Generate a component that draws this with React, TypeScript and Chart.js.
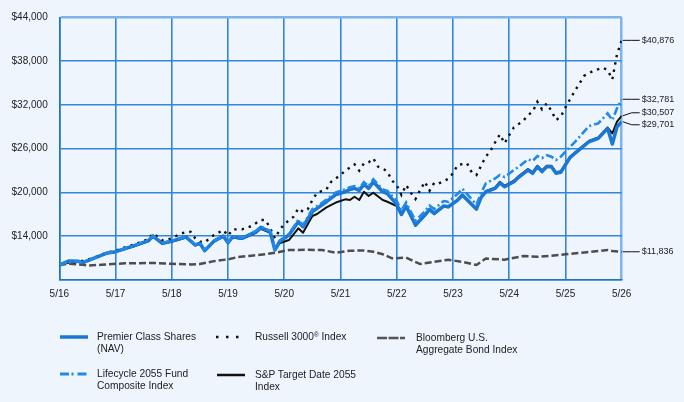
import React, { useEffect, useRef } from 'react';
import { Chart, registerables } from 'chart.js';

Chart.register(...registerables);

// ---- data ----
const xTickLabels = ['5/16', '5/17', '5/18', '5/19', '5/20', '5/21', '5/22', '5/23', '5/24', '5/25', '5/26'];

// months since 5/16 for the fund-type series
const fundMonths = [0, 2, 4, 5, 10, 12, 16, 19, 20, 22, 24, 26, 27, 29, 30, 31, 33, 35, 36, 37, 39, 42, 43, 45, 46, 47, 49, 51, 52, 54, 55, 57, 59, 61, 62, 63, 64, 65, 66, 67, 69, 70, 72, 73, 74, 76, 78, 79, 80, 82, 83, 85, 86, 89, 90, 91, 93, 94, 95, 97, 98, 100, 101, 102, 103, 104, 105, 106, 107, 109, 110, 113, 115, 117, 118, 119, 120];

const premierValues = [10000, 10570, 10530, 10340, 11620, 11850, 12670, 13360, 14000, 13000, 13300, 13680, 13900, 12770, 13000, 11990, 13300, 14000, 13080, 13900, 13680, 14600, 15190, 14590, 12080, 13220, 14140, 15960, 15280, 17340, 17800, 18710, 19700, 20080, 20400, 20540, 20260, 21090, 20540, 21450, 20080, 19810, 18340, 16970, 18110, 15510, 16880, 17660, 17110, 18120, 18020, 18940, 19630, 17700, 19300, 20080, 20540, 21310, 20770, 21450, 22060, 23060, 22610, 23530, 22840, 23530, 23530, 22610, 22750, 24810, 25350, 26950, 27410, 28780, 26630, 29010, 29701];

const lifecycleValues = [10000, 10580, 10540, 10350, 11640, 11870, 12700, 13400, 14050, 13050, 13350, 13730, 13950, 12820, 13050, 12050, 13350, 14050, 13150, 13950, 13750, 14700, 15300, 14700, 12200, 13350, 14300, 16200, 15500, 17700, 18100, 19000, 20000, 20400, 20700, 20850, 20550, 21400, 20850, 21800, 20400, 20200, 18800, 17500, 18600, 16100, 17400, 18200, 17700, 18800, 18700, 19800, 20500, 18300, 19900, 21220, 21900, 22380, 22100, 23060, 23500, 24530, 24300, 24990, 24700, 25100, 24900, 24440, 24900, 26260, 26900, 29100, 29470, 30840, 29930, 31530, 32781];

const spTargetValues = [10000, 10540, 10500, 10320, 11580, 11800, 12600, 13280, 13900, 12920, 13200, 13580, 13800, 12700, 12950, 11950, 13250, 13900, 13000, 13800, 13600, 14450, 15000, 14450, 12100, 13000, 13450, 15060, 14450, 16750, 17020, 17940, 18600, 19040, 18940, 19400, 18940, 20080, 19490, 19950, 18940, 18710, 18100, 16900, 18000, 15400, 16800, 17550, 17000, 18050, 17950, 18900, 19550, 17650, 19300, 20150, 20650, 21450, 20900, 21600, 22200, 23200, 22750, 23650, 23000, 23650, 23650, 22750, 22900, 24900, 25450, 27050, 27550, 28900, 28090, 29700, 30507];

const russellMonths = [0, 2, 4, 6, 8, 10, 12, 16, 19, 20, 22, 24, 26, 28, 29, 30, 31, 33, 35, 36, 37, 39, 41, 43, 44, 45, 46, 47, 48, 50, 51, 52, 53, 54, 55, 57, 58, 60, 61, 63, 64, 65, 66, 67, 68, 69, 70, 71, 72, 73, 74, 75, 76, 77, 78, 79, 80, 81, 83, 84, 85, 87, 88, 89, 90, 91, 92, 93, 94, 95, 96, 97, 99, 100, 101, 102, 103, 104, 105, 106, 107, 108, 109, 110, 111, 112, 114, 116, 117, 118, 119, 120];

const russellValues = [10000, 10350, 10450, 10750, 11160, 11700, 12000, 12850, 13550, 14350, 13400, 13680, 14370, 14590, 13680, 13220, 13130, 14140, 14820, 14040, 14910, 14910, 15370, 16200, 16200, 15060, 13680, 14820, 15650, 16650, 17800, 17340, 17660, 18940, 19940, 20410, 21450, 22380, 22970, 23840, 22970, 23990, 24120, 24670, 23530, 23300, 22840, 21600, 21000, 19630, 21000, 19950, 19080, 20310, 21450, 20220, 21310, 21220, 21860, 22620, 23760, 23990, 22740, 22380, 23650, 24900, 25680, 26870, 27960, 26730, 27870, 28920, 29830, 30610, 31070, 32440, 31400, 32220, 31200, 29930, 30380, 31670, 32810, 33910, 34970, 36010, 36700, 37110, 36790, 35510, 38950, 40876];

const bondMonths = [0, 2, 5, 6, 9, 14, 20, 24, 28, 30, 33, 36, 38, 41, 44, 46, 49, 53, 56, 59, 62, 65, 67, 69, 71, 74, 77, 80, 83, 86, 89, 91, 95, 99, 102, 105, 108, 112, 117, 118, 120];

const bondValues = [10000, 10200, 10050, 9950, 10050, 10250, 10300, 10180, 10100, 10150, 10550, 10800, 11100, 11300, 11500, 11700, 12080, 12100, 12080, 11710, 11990, 12000, 11850, 11500, 10940, 11020, 10150, 10470, 10750, 10450, 10020, 10900, 10750, 11250, 11150, 11300, 11500, 11750, 12080, 11940, 11836];

const seriesNames = [
  'Lifecycle 2055 Fund Composite Index',
  'Premier Class Shares (NAV)',
  'S&P Target Date 2055 Index',
  'Russell 3000® Index',
  'Bloomberg U.S. Aggregate Bond Index',
];

const FONT = '"Liberation Sans", Arial, Helvetica, sans-serif';
const BG = '#EEF5FD';
const GRID = '#3585da';
const EDGE = '#7db4ee';
const TEXT = '#222222';
const PREMIER = '#1a78d4';
const LIFECYCLE = '#2389e6';

const toPoints = (xs: number[], ys: number[]) => xs.map((x, i) => ({ x, y: ys[i] }));

const endLabels = {
  id: 'endLabels',
  afterDatasetsDraw(chart: any) {
    const { ctx, chartArea } = chart;
    const items = chart.data.datasets.map((ds: any, i: number) => {
      const meta = chart.getDatasetMeta(i);
      const last = meta.data[meta.data.length - 1];
      const v = ds.data[ds.data.length - 1].y;
      return { y: last.y, ly: last.y, text: '$' + v.toLocaleString('en-US') };
    });
    items.sort((a: any, b: any) => a.y - b.y);
    const gap = 12;
    for (let it = 0; it < 30; it++) {
      for (let i = 1; i < items.length; i++) {
        const d = items[i].ly - items[i - 1].ly;
        if (d < gap) {
          const s = (gap - d) / 2;
          items[i - 1].ly -= s;
          items[i].ly += s;
        }
      }
    }
    ctx.save();
    ctx.strokeStyle = '#111';
    ctx.lineWidth = 1;
    ctx.fillStyle = TEXT;
    ctx.font = `9px ${FONT}`;
    ctx.textBaseline = 'middle';
    ctx.textAlign = 'left';
    const r = chartArea.right;
    items.forEach((it: any) => {
      ctx.beginPath();
      ctx.moveTo(r + 1, it.y);
      ctx.lineTo(r + 10, it.ly);
      ctx.lineTo(r + 18, it.ly);
      ctx.stroke();
      ctx.fillText(it.text, r + 20, it.ly);
    });
    ctx.restore();
  },
};

function Sample({ kind }: { kind: string }) {
  const common = { x1: 1, y1: 5, x2: 29, y2: 5, strokeLinecap: 'butt' as const };
  let el;
  if (kind === 'premier') el = <line {...common} stroke={PREMIER} strokeWidth={3.5} />;
  else if (kind === 'lifecycle') el = <line {...common} stroke={LIFECYCLE} strokeWidth={3} strokeDasharray="9 2.5 2 4" />;
  else if (kind === 'sp') el = <line {...common} stroke="#111" strokeWidth={2.5} />;
  else if (kind === 'russell') el = <line x1={1} y1={5} x2={24} y2={5} stroke="#111" strokeWidth={2.5} strokeDasharray="2.5 7.5" />;
  else el = <line {...common} stroke="#555" strokeWidth={2.5} strokeDasharray="10 1.5" />;
  return (
    <svg width={30} height={10} style={{ position: 'absolute', left: 0, top: 0 }}>
      {el}
    </svg>
  );
}

function LegendItem({ left, top, kind, children, textLeft }: any) {
  return (
    <>
      <div style={{ position: 'absolute', left, top: top - 5, width: 30, height: 10 }}>
        <Sample kind={kind} />
      </div>
      <div
        style={{
          position: 'absolute',
          left: textLeft,
          top: top - 6,
          fontSize: 10.2,
          lineHeight: '11.5px',
          color: TEXT,
          fontFamily: FONT,
          whiteSpace: 'nowrap',
        }}
      >
        {children}
      </div>
    </>
  );
}

export default function App() {
  const ref = useRef<HTMLCanvasElement>(null);

  useEffect(() => {
    document.body.style.margin = '0';
    document.body.style.background = BG;
    const canvas = ref.current;
    if (!canvas) return;
    const chart = new Chart(canvas, {
      type: 'line',
      data: {
        datasets: [
          {
            label: seriesNames[0],
            data: toPoints(fundMonths, lifecycleValues),
            borderColor: LIFECYCLE,
            borderWidth: 2.6,
            borderDash: [8, 3, 2, 3],
            pointRadius: 0,
            tension: 0,
          },
          {
            label: seriesNames[1],
            data: toPoints(fundMonths, premierValues),
            borderColor: PREMIER,
            borderWidth: 3.5,
            borderJoinStyle: 'round',
            pointRadius: 0,
            tension: 0,
          },
          {
            label: seriesNames[2],
            data: toPoints(fundMonths, spTargetValues),
            borderColor: '#111',
            borderWidth: 2,
            borderJoinStyle: 'round',
            pointRadius: 0,
            tension: 0,
          },
          {
            label: seriesNames[3],
            data: toPoints(russellMonths, russellValues),
            borderColor: '#111',
            borderWidth: 2.4,
            borderDash: [2.4, 5],
            pointRadius: 0,
            tension: 0,
          },
          {
            label: seriesNames[4],
            data: toPoints(bondMonths, bondValues),
            borderColor: '#4d4d4d',
            borderWidth: 2.5,
            borderDash: [7, 3],
            pointRadius: 0,
            tension: 0,
          },
        ] as any,
      },
      options: {
        animation: false,
        responsive: false,
        maintainAspectRatio: false,
        layout: { padding: { left: 0, top: 17.5, right: 62.3, bottom: 0 } },
        plugins: { legend: { display: false }, tooltip: { enabled: false } },
        scales: {
          x: {
            type: 'linear',
            min: 0,
            max: 120,
            afterFit: (s: any) => {
              s.height = 402 - 279.7;
            },
            ticks: {
              stepSize: 12,
              autoSkip: false,
              maxRotation: 0,
              padding: 9,
              color: TEXT,
              font: { family: FONT, size: 10 },
              callback: (v: any) => xTickLabels[Math.round(Number(v) / 12)] ?? '',
            },
            grid: {
              drawTicks: false,
              color: (c: any) => (c.tick && c.tick.value === 120 ? EDGE : GRID),
              lineWidth: (c: any) => (c.tick && c.tick.value === 120 ? 2.5 : 1.6),
            },
            border: { color: '#1f74cc', width: 1.6 },
          },
          y: {
            type: 'linear',
            min: 8000,
            max: 44000,
            afterFit: (s: any) => {
              s.width = 59.3;
            },
            ticks: {
              stepSize: 6000,
              padding: 11.6,
              color: TEXT,
              font: { family: FONT, size: 10 },
              callback: (v: any) => (Number(v) === 8000 ? '' : '$' + Number(v).toLocaleString('en-US')),
            },
            grid: {
              drawTicks: false,
              color: (c: any) => (c.tick && c.tick.value === 44000 ? EDGE : GRID),
              lineWidth: (c: any) => (c.tick && c.tick.value === 44000 ? 2.5 : 1.6),
            },
            border: { color: '#1f74cc', width: 1.6 },
          },
        },
      },
      plugins: [endLabels],
    });
    return () => chart.destroy();
  }, []);

  return (
    <div style={{ position: 'relative', width: 684, height: 402, background: BG, fontFamily: FONT }}>
      <canvas ref={ref} width={684} height={402} style={{ position: 'absolute', left: 0, top: 0, width: 684, height: 402 }} />
      <LegendItem left={59} top={337} textLeft={97} kind="premier">
        Premier Class Shares
        <br />
        (NAV)
      </LegendItem>
      <LegendItem left={215} top={337} textLeft={255} kind="russell">
        Russell 3000<sup style={{ fontSize: 6.5, lineHeight: 0, verticalAlign: '3px' }}>®</sup> Index
      </LegendItem>
      <LegendItem left={376} top={338} textLeft={416} kind="bond">
        Bloomberg U.S.
        <br />
        Aggregate Bond Index
      </LegendItem>
      <LegendItem left={59} top={374} textLeft={97} kind="lifecycle">
        Lifecycle 2055 Fund
        <br />
        Composite Index
      </LegendItem>
      <LegendItem left={216} top={375} textLeft={255} kind="sp">
        S&amp;P Target Date 2055
        <br />
        Index
      </LegendItem>
    </div>
  );
}
